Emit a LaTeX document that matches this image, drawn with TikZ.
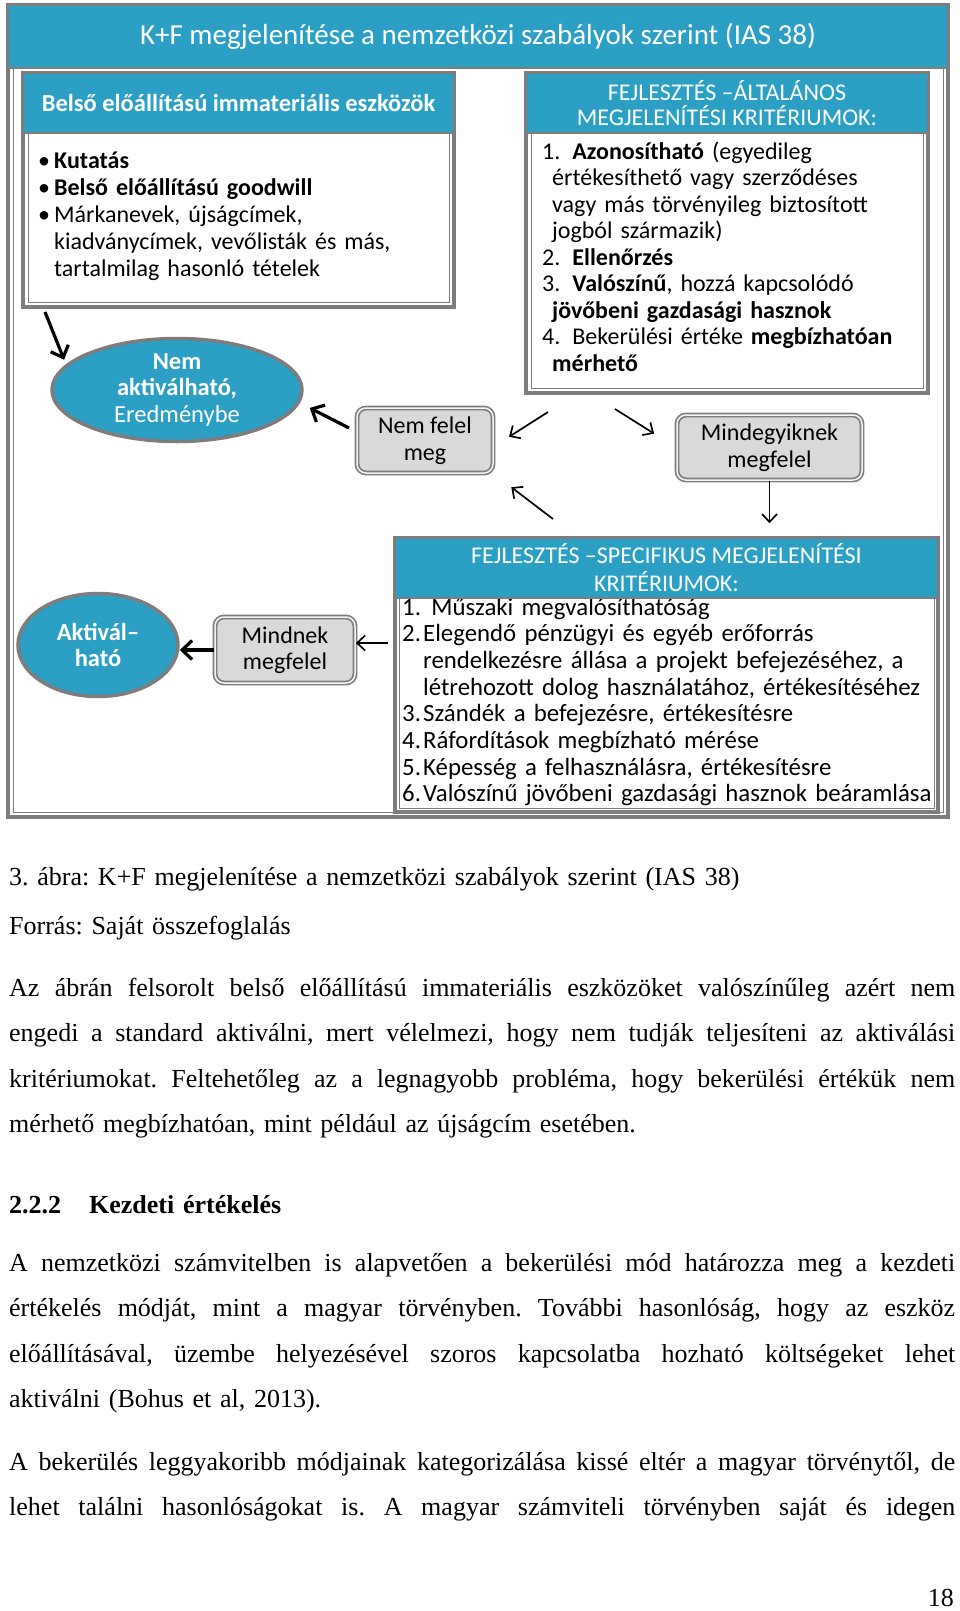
\documentclass[tikz,border=0pt]{standalone}
\usepackage{fontspec}
\setmainfont{Liberation Serif}
\newfontfamily\diafont{Carlito}
\usetikzlibrary{arrows.meta,shapes.geometric}

\definecolor{kfteal}{RGB}{44,160,196}
\definecolor{kfgray}{RGB}{125,125,125}
\definecolor{kflight}{RGB}{217,217,217}

\newcommand\diasize{\diafont\fontsize{24}{26.5}\selectfont}
\newcommand\pagesize{\frenchspacing\fontsize{26}{45.5}\selectfont}
\newcommand\fullline[1]{\leavevmode\hbox to 946pt{\spaceskip=0.25em plus 1fil\relax #1}}

\tikzset{
  boxrim/.style={draw=kfgray, line width=3.5pt, fill=white, inner sep=0pt},
  innerline/.style={draw=kfgray, line width=1pt, inner sep=0pt},
  headbar/.style={fill=kfteal, draw=kfgray, line width=2pt, text=white, align=center, inner sep=0pt},
  boxtext/.style={anchor=base west, inner sep=0pt, align=left},
  answerbox/.style={rounded corners=9pt, fill=kflight, draw=kfgray, double=kflight!30, double distance=1.5pt, line width=1.7pt, align=center, inner sep=0pt, font=\diasize},
  resultoval/.style={ellipse, fill=kfteal, draw=kfgray, line width=3.5pt, text=white, align=center, inner sep=0pt, font=\diafont\fontsize{24.5}{26.5}\selectfont},
  bigarrow/.style={-{Straight Barb[length=10pt,width=19pt]}, line width=3.2pt},
  smallarrow/.style={-{Straight Barb[length=8pt,width=15pt]}, line width=1.7pt},
  pageline/.style={anchor=base west, inner sep=0pt, text width=946pt, font=\pagesize}
}

\begin{document}
\begin{tikzpicture}[x=1pt, y=-1pt]
  \useasboundingbox (0,0) rectangle (960,1611);

  % outer frame and title bar
  \node[boxrim, minimum width=940pt, minimum height=812pt] (frame) at (478,411) {};
  \node[innerline, minimum width=930pt, minimum height=802pt] (frameInner) at (478,411) {};
  \node[headbar, minimum width=940pt, minimum height=63pt, font=\diafont\fontsize{29}{32}\selectfont] (title) at (478,36.5) {K+F megjelenítése a nemzetközi szabályok szerint (IAS 38)};

  % internally generated intangibles
  \node[boxrim, minimum width=431pt, minimum height=234pt] (belso) at (238.5,190) {};
  \node[innerline, minimum width=421pt, minimum height=169pt] (belsoInner) at (238.5,217.5) {};
  \node[boxtext, text width=401pt, font=\diafont\fontsize{24}{27}\selectfont] (belsoText) at (38,168) {%
    \textbullet\,\textbf{Kutatás}\\
    \textbullet\,\textbf{Belső előállítású goodwill}\\
    \textbullet\,Márkanevek, újságcímek,\\
    \phantom{\textbullet\,}kiadványcímek, vevőlisták és más,\\
    \phantom{\textbullet\,}tartalmilag hasonló tételek};
  \node[headbar, minimum width=431pt, minimum height=60pt, font=\diafont\bfseries\fontsize{24.5}{27}\selectfont] (belsoHead) at (238.5,103) {Belső előállítású immateriális eszközök};

  % general recognition criteria
  \node[boxrim, minimum width=402pt, minimum height=320pt] (altal) at (727,233) {};
  \node[innerline, minimum width=392pt, minimum height=255pt] (altalInner) at (727,260.5) {};
  \node[boxtext, text width=380pt, font=\diasize] (altalText) at (542,159) {%
    1. \textbf{Azonosítható} (egyedileg\\
    \hspace*{10pt}értékesíthető vagy szerződéses\\
    \hspace*{10pt}vagy más törvényileg biztosított\\
    \hspace*{10pt}jogból származik)\\
    2. \textbf{Ellenőrzés}\\
    3. \textbf{Valószínű}, hozzá kapcsolódó\\
    \hspace*{10pt}\textbf{jövőbeni gazdasági hasznok}\\
    4. Bekerülési értéke \textbf{megbízhatóan}\\
    \hspace*{10pt}\textbf{mérhető}};
  \node[headbar, minimum width=402pt, minimum height=60pt, font=\diafont\fontsize{24}{25}\selectfont] (altalHead) at (727,103) {FEJLESZTÉS –ÁLTALÁNOS\\MEGJELENÍTÉSI KRITÉRIUMOK:};

  % development specific criteria
  \node[boxrim, minimum width=543pt, minimum height=274pt] (spec) at (666.5,675) {};
  \node[innerline, minimum width=535pt, minimum height=210pt] (specInner) at (666.5,703) {};
  \node[boxtext, text width=560pt, font=\diafont\fontsize{24.8}{26.7}\selectfont] (specText) at (402,615) {%
    \makebox[21pt][l]{1.}\ Műszaki megvalósíthatóság\\
    \makebox[21pt][l]{2.}Elegendő pénzügyi és egyéb erőforrás\\
    \hspace*{21pt}rendelkezésre állása a projekt befejezéséhez, a\\
    \hspace*{21pt}létrehozott dolog használatához, értékesítéséhez\\
    \makebox[21pt][l]{3.}Szándék a befejezésre, értékesítésre\\
    \makebox[21pt][l]{4.}Ráfordítások megbízható mérése\\
    \makebox[21pt][l]{5.}Képesség a felhasználásra, értékesítésre\\
    \makebox[21pt][l]{6.}Valószínű jövőbeni gazdasági hasznok beáramlása};
  \node[headbar, minimum width=543pt, minimum height=60pt, font=\diafont\fontsize{24}{28}\selectfont] (specHead) at (666.5,568) {FEJLESZTÉS –SPECIFIKUS MEGJELENÍTÉSI\\KRITÉRIUMOK:};

  % outcomes
  \node[resultoval, inner ysep=-2pt, minimum width=250pt, minimum height=103pt] (nemakt) at (177,390) {\textbf{Nem}\\\textbf{aktiválható,}\\Eredménybe};
  \node[resultoval, minimum width=160pt, minimum height=103pt] (aktiv) at (98,645) {\textbf{Aktivál–}\\\textbf{ható}};

  % answers
  \node[answerbox, minimum width=136pt, minimum height=65pt] (nemfelel) at (425,440.5) {Nem felel\\meg};
  \node[answerbox, minimum width=185pt, minimum height=65pt] (mindegy) at (769.5,447.5) {Mindegyiknek\\megfelel};
  \node[answerbox, minimum width=140pt, minimum height=66pt] (mindnek) at (285,650) {Mindnek\\megfelel};

  % arrows
  \coordinate (t1) at (45,312);
  \coordinate (t2) at (349,428);
  \coordinate (t3) at (548,412);
  \coordinate (t4) at (615,409);
  \coordinate (t6) at (553,519);
  \coordinate (t7) at (388,643);
  \draw[bigarrow, shorten >=5pt] (t1) -- (nemakt.167);
  \draw[bigarrow, shorten >=11pt] (t2) -- (nemakt.-6);
  \draw[smallarrow, shorten >=18pt] (t3) -- (nemfelel.-5);
  \draw[smallarrow, shorten >=26pt] (t4) -- (mindegy.west);
  \draw[smallarrow, shorten >=13pt] (mindegy.south) -- (mindegy.south |- spec.north);
  \draw[smallarrow, shorten >=22pt] (t6) -- (nemfelel.south east);
  \draw[smallarrow] (t7) -- (t7 -| mindnek.east);
  \draw[bigarrow] (mindnek.west) -- (mindnek.west -| aktiv.east);

  % caption and running text
  \node[pageline] (caption) at (9,885) {3. ábra: K+F megjelenítése a nemzetközi szabályok szerint (IAS 38)};
  \node[pageline] (source) at (9,934) {Forrás: Saját összefoglalás};
  \node[pageline] (para1) at (9,996) {%
    \fullline{Az ábrán felsorolt belső előállítású immateriális eszközöket valószínűleg azért nem}\\
    \fullline{engedi a standard aktiválni, mert vélelmezi, hogy nem tudják teljesíteni az aktiválási}\\
    \fullline{kritériumokat. Feltehetőleg az a legnagyobb probléma, hogy bekerülési értékük nem}\\
    mérhető megbízhatóan, mint például az újságcím esetében.};
  \node[pageline, font=\pagesize\bfseries] (heading) at (9,1213) {\makebox[80pt][l]{2.2.2}Kezdeti értékelés};
  \node[pageline] (para2) at (9,1271) {%
    \fullline{A nemzetközi számvitelben is alapvetően a bekerülési mód határozza meg a kezdeti}\\
    \fullline{értékelés módját, mint a magyar törvényben. További hasonlóság, hogy az eszköz}\\
    \fullline{előállításával, üzembe helyezésével szoros kapcsolatba hozható költségeket lehet}\\
    aktiválni (Bohus et al, 2013).};
  \node[pageline] (para3) at (9,1470) {%
    \fullline{A bekerülés leggyakoribb módjainak kategorizálása kissé eltér a magyar törvénytől, de}\\
    \fullline{lehet találni hasonlóságokat is. A magyar számviteli törvényben saját és idegen}};
  \node[anchor=base east, inner sep=0pt, font=\pagesize] (pagenum) at (954,1606) {18};
\end{tikzpicture}
\end{document}
